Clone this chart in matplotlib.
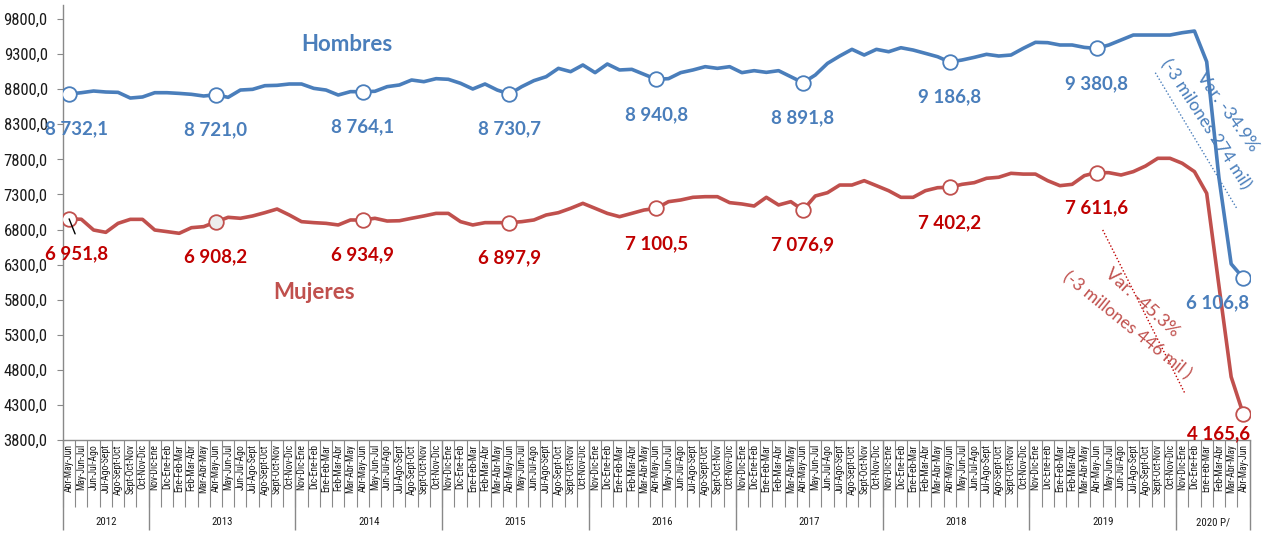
import matplotlib
matplotlib.use("Agg")
import matplotlib.pyplot as plt
import numpy as np
from matplotlib.ticker import FuncFormatter
from matplotlib import font_manager

# ---------------- data ----------------
periods_2012 = ["Abr-May-Jun", "May-Jun-Jul", "Jun-Jul-Ago", "Jul-Ago-Sept",
                "Ago-Sept-Oct", "Sept-Oct-Nov", "Oct-Nov-Dic"]
periods_year = ["Nov-Dic-Ene", "Dic-Ene-Feb", "Ene-Feb-Mar", "Feb-Mar-Abr",
                "Mar-Abr-May", "Abr-May-Jun", "May-Jun-Jul", "Jun-Jul-Ago",
                "Jul-Ago-Sept", "Ago-Sept-Oct", "Sept-Oct-Nov", "Oct-Nov-Dic"]
periods_2020 = ["Nov-Dic-Ene", "Dic-Ene-Feb", "Ene-Feb-Mar", "Feb-Mar-Abr",
                "Mar-Abr-May", "Abr-May-Jun"]
years = ["2012", "2013", "2014", "2015", "2016", "2017", "2018", "2019", "2020 P/"]
year_sizes = [7, 12, 12, 12, 12, 12, 12, 12, 6]
periods = periods_2012 + periods_year * 7 + periods_2020

hombres = [
    8732.1, 8750, 8774, 8760, 8755, 8674, 8689, 8750, 8750, 8740, 8727, 8703,
    8721.0, 8684, 8788, 8798, 8850, 8855, 8874, 8874, 8812, 8788, 8717, 8765,
    8764.1, 8770, 8836, 8860, 8931, 8907, 8950, 8941, 8884, 8803, 8874, 8788,
    8730.7, 8836, 8922, 8978, 9097, 9050, 9145, 9036, 9159, 9074, 9083, 9012,
    8940.8, 8950, 9036, 9074, 9121, 9097, 9121, 9036, 9064, 9040, 9064, 8978,
    8891.8, 9002, 9168, 9273, 9368, 9287, 9368, 9334, 9391, 9358, 9311, 9263,
    9186.8, 9216, 9254, 9297, 9273, 9287, 9382, 9468, 9463, 9430, 9430, 9396,
    9380.8, 9430, 9501, 9572, 9572, 9572, 9572, 9605, 9629, 9192, 7540, 6310,
    6106.8]
mujeres = [
    6951.8, 6946, 6793, 6760, 6888, 6945, 6945, 6793, 6770, 6746, 6826, 6841,
    6908.2, 6974, 6960, 6993, 7040, 7092, 7007, 6912, 6898, 6888, 6865, 6936,
    6934.9, 6960, 6921, 6925, 6960, 6993, 7030, 7030, 6912, 6865, 6898, 6898,
    6897.9, 6912, 6936, 7007, 7040, 7102, 7173, 7102, 7030, 6983, 7030, 7078,
    7100.5, 7197, 7221, 7259, 7268, 7268, 7183, 7164, 7135, 7259, 7150, 7197,
    7076.9, 7278, 7325, 7434, 7434, 7496, 7425, 7353, 7259, 7259, 7353, 7396,
    7402.2, 7444, 7468, 7530, 7545, 7601, 7590, 7590, 7496, 7425, 7444, 7568,
    7611.6, 7610, 7577, 7625, 7705, 7815, 7815, 7744, 7625, 7316, 6000, 4700,
    4165.6]
marked_idx = [0, 12, 24, 36, 48, 60, 72, 84, 96]

# ---------------- style ----------------
BLUE = "#4A7EBB"
RED_LINE = "#C0504D"
RED_TXT = "#C00000"
GRAY = "#898989"
LABEL_FONT = ["Lato", "DejaVu Sans"]

# pick a narrow font if one is installed, else Liberation Sans at smaller sizes
_entries = font_manager.fontManager.ttflist
_names = {f.name for f in _entries}
narrow = None
narrow_stretch = "normal"
for cand in ["Liberation Sans Narrow", "Arial Narrow", "Roboto Condensed",
             "Noto Sans Condensed", "Open Sans Condensed", "DejaVu Sans Condensed"]:
    if cand in _names:
        narrow = cand
        break
if narrow is None:
    for f in _entries:
        if str(f.stretch) in ("condensed", "semi-condensed") and \
                f.name in ("Noto Sans", "DejaVu Sans", "Open Sans", "Roboto"):
            narrow = f.name
            narrow_stretch = str(f.stretch)
            break
if narrow is not None:
    YFONT = dict(family=[narrow, "DejaVu Sans"], stretch=narrow_stretch)
    ysize, xsize, yrsize, ypad = 12, 6.9, 7.8, 7
else:
    YFONT = dict(family=["Liberation Sans", "DejaVu Sans"], stretch="normal")
    ysize, xsize, yrsize, ypad = 11, 5.6, 7.0, 3

fig = plt.figure(figsize=(12.63, 5.34), dpi=100)
ax = fig.add_axes([63 / 1263, 94 / 534, (1249.5 - 63) / 1263, 435 / 534])

x = np.arange(len(periods))
h = np.array(hombres)
m = np.array(mujeres)

ax.plot(x, h, color=BLUE, lw=2.6, zorder=3, solid_joinstyle="round")
ax.plot(x, m, color=RED_LINE, lw=2.6, zorder=3, solid_joinstyle="round")
ax.plot(x[marked_idx], h[marked_idx], "o", ms=10.5, mfc="white", mec=BLUE,
        mew=1.3, zorder=4)
mfc_red = ["white"] * len(marked_idx)
mfc_red[1] = "#EDEDED"
for i, k in enumerate(marked_idx):
    ax.plot(x[k], m[k], "o", ms=10.5, mfc=mfc_red[i], mec=RED_LINE, mew=1.3,
            zorder=4)


def fmt(v):
    return f"{v:,.1f}".replace(",", " ").replace(".", ",")


for j, k in enumerate(marked_idx):
    if j == 0:
        oh, om = (7, -35), (7, -35)
    elif j == len(marked_idx) - 1:
        oh, om = (-26, -25), (-25, -19)
    else:
        oh, om = (0, -35), (0, -35)
    ax.annotate(fmt(h[k]), (x[k], h[k]), xytext=oh, textcoords="offset pixels",
                ha="center", va="center", color=BLUE, fontsize=13.5,
                fontweight="bold", family=LABEL_FONT, zorder=5)
    ax.annotate(fmt(m[k]), (x[k], m[k]), xytext=om, textcoords="offset pixels",
                ha="center", va="center", color=RED_TXT, fontsize=13.5,
                fontweight="bold", family=LABEL_FONT, zorder=5)

# leader line at first red label
ax.annotate("", xy=(x[0], m[0]), xytext=(6, -15), textcoords="offset pixels",
            arrowprops=dict(arrowstyle="-", color="black", lw=1.0,
                            shrinkA=0, shrinkB=0), zorder=5)

# series names
ax.text(22.7, 9430, "Hombres", color=BLUE, fontsize=16, fontweight="bold",
        family=LABEL_FONT, ha="center", va="center")
ax.text(20.0, 5896, "Mujeres", color=RED_LINE, fontsize=16, fontweight="bold",
        family=LABEL_FONT, ha="center", va="center")

# variation annotations
ax.text(94.7, 8480, "Var. -34.9%", color=BLUE, fontsize=13, family=LABEL_FONT,
        rotation=-54, rotation_mode="anchor", ha="center", va="center")
ax.text(92.9, 8301, "(-3 milones 274 mil)", color=BLUE, fontsize=12.5,
        family=LABEL_FONT, rotation=-57, rotation_mode="anchor",
        ha="center", va="center")
ax.plot([88.8, 95.5], [9035, 7089], ls=(0, (1, 1.5)), color=BLUE, lw=1.0)

ax.text(87.7, 5761, "Var. -45.3%", color=RED_LINE, fontsize=13,
        family=LABEL_FONT, rotation=-42, rotation_mode="anchor",
        ha="center", va="center")
ax.text(86.5, 5440, "(-3 millones 446 mil )", color=RED_LINE, fontsize=12.5,
        family=LABEL_FONT, rotation=-39, rotation_mode="anchor",
        ha="center", va="center")
ax.plot([84.5, 91.2], [6794, 4471], ls=(0, (1, 1.5)), color=RED_TXT, lw=1.0)

# axes
ax.set_xlim(-0.5, len(periods) - 0.5)
ax.set_ylim(3800, 10000)
ax.set_yticks(np.arange(3800, 9801, 500))
ax.yaxis.set_major_formatter(FuncFormatter(lambda v, p: f"{v:.1f}".replace(".", ",")))
ax.tick_params(axis="y", length=4, color=GRAY, labelsize=ysize,
               labelcolor="#1a1a1a", pad=ypad)
for lab in ax.get_yticklabels():
    lab.set_family(YFONT["family"])
    lab.set_stretch(YFONT["stretch"])

for s in ["top", "right"]:
    ax.spines[s].set_visible(False)
for s in ["left", "bottom"]:
    ax.spines[s].set_color(GRAY)
    ax.spines[s].set_linewidth(1.0)

ax.set_xticks(x)
ax.set_xticklabels(periods, rotation=90, fontsize=xsize, color="#1a1a1a")
for lab in ax.get_xticklabels():
    lab.set_family(YFONT["family"])
    lab.set_stretch(YFONT["stretch"])
ax.tick_params(axis="x", which="major", length=0, pad=3)
ax.set_xticks(np.arange(-0.5, len(periods), 1), minor=True)
ax.tick_params(axis="x", which="minor", length=48, color=GRAY, width=0.8)

# year groups
bounds = np.concatenate([[0], np.cumsum(year_sizes)]) - 0.5
ax.vlines(bounds, -0.207, 0, transform=ax.get_xaxis_transform(), colors=GRAY,
          lw=1.0, clip_on=False)
centers = (bounds[:-1] + bounds[1:]) / 2
for c, yl in zip(centers, years):
    ax.text(c, -0.189, yl, transform=ax.get_xaxis_transform(), ha="center",
            va="center", fontsize=yrsize, family=YFONT["family"],
            stretch=YFONT["stretch"], color="#1a1a1a")

fig.savefig("out.png", dpi=100)
